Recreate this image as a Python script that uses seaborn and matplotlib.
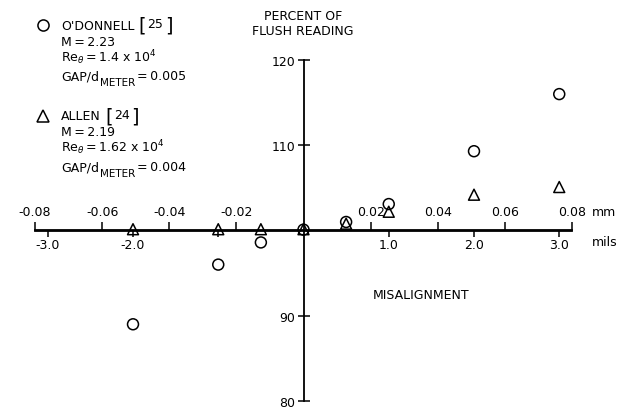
import matplotlib
matplotlib.use("Agg")
import matplotlib.pyplot as plt
from matplotlib.lines import Line2D
import seaborn as sns

MM_PER_MIL = 0.0254

# O'Donnell [25] -> open circles
odonnell_mils = [-2.0, -1.0, -0.5, 0.0, 0.5, 1.0, 2.0, 3.0]
odonnell_pct = [89.0, 96.0, 98.6, 100.1, 101.0, 103.1, 109.3, 116.0]

# Allen [24] -> open triangles
allen_mils = [-2.0, -1.0, -0.5, 0.0, 0.5, 1.0, 2.0, 3.0]
allen_pct = [100.15, 100.15, 100.15, 100.15, 100.8, 102.2, 104.2, 105.1]

mils_ticks = [-3.0, -2.0, -1.0, 1.0, 2.0, 3.0]
mils_labels = ["-3.0", "-2.0", "", "1.0", "2.0", "3.0"]
mm_ticks = [-0.08, -0.06, -0.04, -0.02, 0.02, 0.04, 0.06, 0.08]
mm_labels = ["-0.08", "-0.06", "-0.04", "-0.02", "0.02", "0.04", "0.06", "0.08"]
pct_ticks = [80, 90, 110, 120]

W, H = 632, 410
TS = "\u2009"  # thin space, the lettering is tight around "="


def fx(px):
    return px / W


def fy(py):
    return 1 - py / H


sns.set_theme(style="ticks", rc={"axes.edgecolor": "black", "text.color": "black",
                                 "xtick.color": "black", "ytick.color": "black"})
plt.rcParams["font.family"] = ["DejaVu Sans"]
plt.rcParams["axes.unicode_minus"] = False

fig = plt.figure(figsize=(W / 100, H / 100), dpi=100)
ax = fig.add_axes([fx(35), 8 / H, 537 / W, 341 / H])

sns.scatterplot(x=odonnell_mils, y=odonnell_pct, marker="o", s=62, color="black",
                facecolor="none", edgecolor="black", linewidth=1.1, ax=ax, zorder=3)
sns.scatterplot(x=allen_mils, y=allen_pct, marker="^", s=62, color="black",
                facecolor="none", edgecolor="black", linewidth=1.1, ax=ax, zorder=3)

ax.set_xlim(-0.08 / MM_PER_MIL, 0.08 / MM_PER_MIL)
ax.set_ylim(80, 120)
ax.spines["left"].set_position(("data", 0))
ax.spines["bottom"].set_position(("data", 100))
ax.spines["top"].set_visible(False)
ax.spines["right"].set_visible(False)
for s in ["left", "bottom"]:
    ax.spines[s].set_linewidth(1.3)
ax.set_xticks(mils_ticks)
ax.set_xticklabels(mils_labels)
ax.set_yticks(pct_ticks)
ax.tick_params(axis="x", bottom=True, direction="out", length=4, width=1.1, pad=1.5, labelsize=9)
ax.tick_params(axis="y", left=True, direction="inout", length=8, width=1.1, pad=2, labelsize=9)
ax.set_xlabel("")
ax.set_ylabel("")

# mm scale on the same line, ticks pointing up
sec = ax.secondary_xaxis(0.5, functions=(lambda m: m * MM_PER_MIL, lambda mm: mm / MM_PER_MIL))
sec.set_xticks(mm_ticks)
sec.set_xticklabels(mm_labels)
sec.tick_params(direction="out", length=6, width=1.1, pad=3, labelsize=9)
for sp in sec.spines.values():
    sp.set_linewidth(1.3)

# units and axis titles
fig.text(fx(592), fy(213), "mm", fontsize=9, va="center", ha="left")
fig.text(fx(592), fy(243), "mils", fontsize=9, va="center", ha="left")
fig.text(fx(303), fy(24), "PERCENT OF\nFLUSH READING", fontsize=9, ha="center", va="center",
         linespacing=1.25)
fig.text(fx(373), fy(296), "MISALIGNMENT", fontsize=9, ha="left", va="center")

# hand-lettered key in the upper left
keys = [
    ("o", "O'DONNELL", "25", "2.23", "1.4", "0.005", [26, 42, 58, 77]),
    ("^", "ALLEN", "24", "2.19", "1.62", "0.004", [117, 132, 148, 168]),
]
for marker, name, ref, mach, reth, gap, ys in keys:
    fig.add_artist(Line2D([fx(43)], [fy(ys[0])], marker=marker, markersize=8, linestyle="none",
                          markerfacecolor="none", markeredgecolor="black", markeredgewidth=1.1,
                          transform=fig.transFigure))
    t = fig.text(fx(61), fy(ys[0]), name, fontsize=9, va="center", ha="left")
    b1 = ax.annotate("[", xy=(1, 0.5), xycoords=t, xytext=(3, 0), textcoords="offset points",
                     fontsize=14, va="center", ha="left", annotation_clip=False)
    n = ax.annotate(ref, xy=(1, 0.5), xycoords=b1, xytext=(1, 1), textcoords="offset points",
                    fontsize=9, va="center", ha="left", annotation_clip=False)
    ax.annotate("]", xy=(1, 0.5), xycoords=n, xytext=(1, -1), textcoords="offset points",
                fontsize=14, va="center", ha="left", annotation_clip=False)

    fig.text(fx(61), fy(ys[1]), f"M{TS}={TS}{mach}", fontsize=9, va="center", ha="left")
    fig.text(fx(61), fy(ys[2]), rf"Re$_\theta${TS}={TS}{reth} x 10$^4$", fontsize=9,
             va="center", ha="left")
    g = fig.text(fx(61), fy(ys[3]), "GAP/d", fontsize=9, va="center", ha="left")
    sub = ax.annotate("METER", xy=(1, 0), xycoords=g, xytext=(0.5, 0), textcoords="offset points",
                      fontsize=7.5, va="center", ha="left", annotation_clip=False)
    ax.annotate(f"={TS}{gap}", xy=(1, 0.5), xycoords=(sub, g), xytext=(1.5, 0),
                textcoords="offset points", fontsize=9, va="center", ha="left",
                annotation_clip=False)

fig.savefig("out.png", dpi=100)
